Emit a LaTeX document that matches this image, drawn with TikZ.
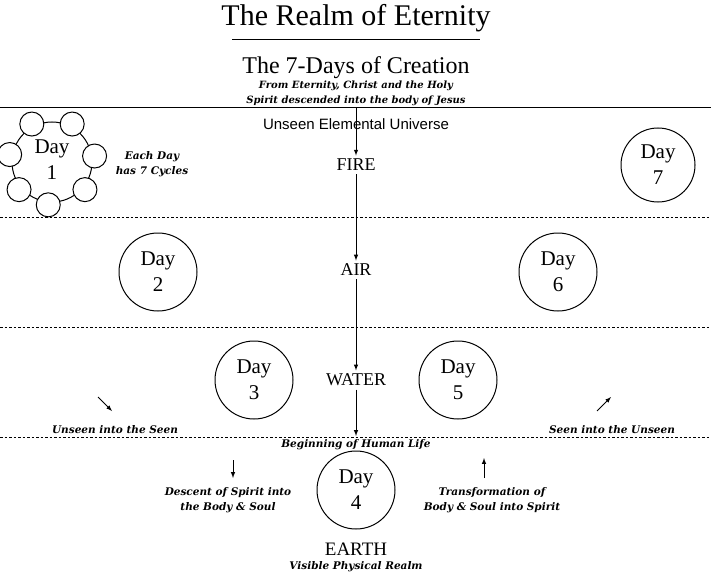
\documentclass[tikz,border=0pt]{standalone}
\usepackage{fontspec}
\usetikzlibrary{calc}
\setmainfont{Liberation Serif}
\newfontfamily\sansf{Liberation Sans}
\newfontfamily\slab{DejaVu Serif}
\begin{document}
\begin{tikzpicture}[x=1pt,y=-1pt,
 day/.style={circle,draw,line width=1pt,minimum size=78pt,align=center,font=\fontsize{21}{26}\selectfont,inner sep=0pt},
 cyc/.style={circle,draw,line width=1pt,minimum size=24pt,inner sep=0pt,fill=white},
 note/.style={font=\slab\bfseries\itshape\fontsize{10.5}{15}\selectfont,align=center},
 elem/.style={font=\fontsize{18}{20}\selectfont},
 arr/.style={-latex,line width=1pt},
 dot/.style={dash pattern=on 2.5pt off 2pt,line width=0.8pt}]
\useasboundingbox (0,0) rectangle (711,580);
\node (title) at (356,18) {\fontsize{30}{32}\selectfont The Realm of Eternity};
\draw[line width=1pt] (232,40) -- (480,40);
\node (sub) at (356,68) {\fontsize{24}{26}\selectfont The 7-Days of Creation};
\node[note,font=\slab\bfseries\itshape\fontsize{10}{15}\selectfont] (from) at (356,93) {From Eternity, Christ and the Holy\\Spirit descended into the body of Jesus};
\draw[line width=1pt] (0,108) -- (711,108);
\coordinate (top) at (356,108);
\node[font=\sansf\fontsize{15}{17}\selectfont] (unseen) at (356,124) {Unseen Elemental Universe};
\node[elem] (fire) at (356,165) {FIRE};
\node[elem] (air) at (356,270) {AIR};
\node[elem] (water) at (356,380) {WATER};
\coordinate (life) at (356,436);
\draw[arr] (top) -- (fire.north);
\draw[arr] (fire) -- (air);
\draw[arr] (air) -- (water);
\draw[arr] (water) -- (life);
\foreach \y in {217,327,437} \draw[dot] (0,\y) -- (711,\y);
% Day 1
\node[day,minimum size=80pt] (d1) at (52,162) {};
\foreach \a/\n in {-118/a,-62/b,-8/c,40/d,95/e,140/f,190/g}
  \node[cyc] (c\n) at ($(52,162)+(\a:43)$) {};
\node[align=center,font=\fontsize{21}{26}\selectfont] (d1t) at (52,160) {Day\\1};
\node[note] (each) at (152,164) {Each Day\\has 7 Cycles};
\node[day,minimum size=74pt] (d7) at (658,165) {Day\\7};
\node[day] (d2) at (158,272) {Day\\2};
\node[day] (d6) at (558,272) {Day\\6};
\node[day] (d3) at (254,380) {Day\\3};
\node[day] (d5) at (458,380) {Day\\5};
\node[day] (d4) at (356,490) {Day\\4};
\node[elem,font=\fontsize{19}{21}\selectfont] (earth) at (356,549) {EARTH};
\node[note] (vis) at (356,567) {Visible Physical Realm};
\node[note] (hum) at (356,445) {Beginning of Human Life};
\node[note] (u2s) at (115,430) {Unseen into the Seen};
\node[note] (s2u) at (612,430) {Seen into the Unseen};
\coordinate (ua) at (98,397); \coordinate (ub) at (112,411);
\draw[arr] (ua) -- (ub);
\coordinate (sa) at (597,411); \coordinate (sb) at (611,397);
\draw[arr] (sa) -- (sb);
\coordinate (da) at (233,460); \coordinate (db) at (233,478);
\draw[arr] (da) -- (db);
\coordinate (ta) at (484,478); \coordinate (tb) at (484,458);
\draw[arr] (ta) -- (tb);
\node[note] (desc) at (228,500) {Descent of Spirit into\\the Body \& Soul};
\node[note] (trans) at (492,500) {Transformation of\\Body \& Soul into Spirit};
\end{tikzpicture}
\end{document}
